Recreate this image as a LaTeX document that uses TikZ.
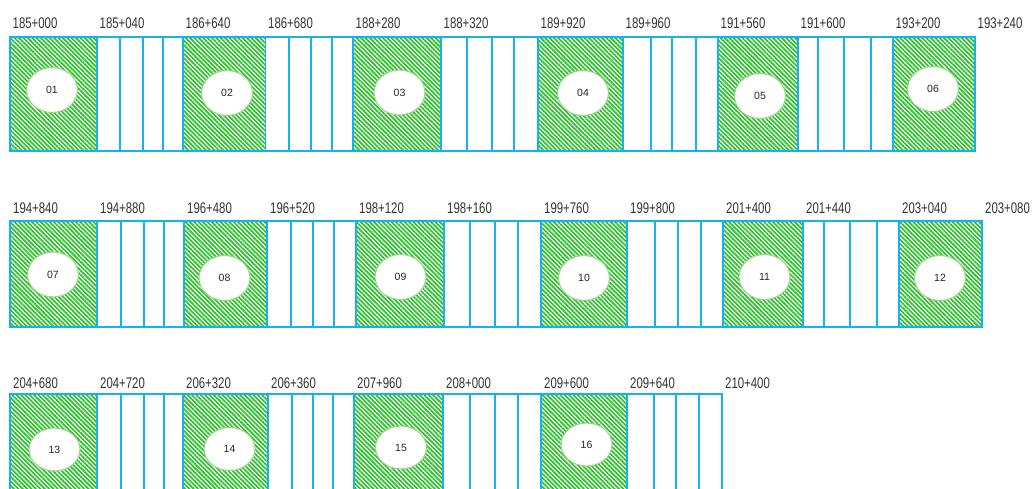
\documentclass[tikz,border=0pt]{standalone}
\usepackage{fontspec}
\setmainfont{Liberation Sans}
\usepackage{graphicx}
\usetikzlibrary{patterns.meta,shapes.geometric}
\definecolor{lineblue}{RGB}{20,178,240}
\definecolor{hatchgreen}{RGB}{45,192,45}
\definecolor{ringgreen}{RGB}{160,210,140}
\newcommand{\tall}[1]{\scalebox{1}[1.35]{#1}}

\begin{document}
\begin{tikzpicture}[x=1pt,y=-1pt,
    hatched/.style={pattern={Lines[angle=-45,distance=3.1pt,line width=1.7pt]},pattern color=hatchgreen},
    sep/.style={draw=lineblue,line width=1.4pt},
    station/.style={anchor=west,inner sep=0pt,text=black!80,font=\fontsize{11.4}{12}\selectfont},
    zone/.style={ellipse,fill=white,draw=ringgreen,line width=1.1pt,minimum width=51pt,minimum height=45pt,inner sep=0pt,text=black!85,font=\fontsize{10.5}{10.5}\selectfont}]
            \useasboundingbox (0,0) rectangle (1035,488);
            \fill[white] (0,0) rectangle (1035,488);
            \clip (0,0) rectangle (1035,488);

            % row 1
            \foreach \a/\b in {10/97,183/265.5,353/441,538/623,718/798,893/975}
                \fill[hatched] (\a,37) rectangle (\b,151);
            \foreach \x in {97,120,143,163,183,265.5,289,311,332,353,441,467,492,514,538,623,651,672,696,718,798,818,844,871,893}
                \draw[sep] (\x,37) -- (\x,151);
            \draw[sep] (10,37) rectangle (975,151);
            \foreach \x/\t [count=\i] in {10/185+000,97/185+040,183/186+640,265.5/186+680,353/188+280,441/188+320,538/189+920,623/189+960,718/191+560,798/191+600,893/193+200,975/193+240}
                \node[station] (ka\i) at (\x+2.5,23.5) {\tall{\t}};
            \foreach \x/\y/\n in {52/90/01,227/93/02,399.5/92.5/03,583/93/04,760/96/05,933/89/06}
                \node[zone] (z\n) at (\x,\y) {\n};

            % row 2
            \foreach \a/\b in {10/97,184/267,356/444,541/627,723/803,899/982}
                \fill[hatched] (\a,221) rectangle (\b,327);
            \foreach \x in {97,121,144,164,184,267,291,313,334,356,444,470,495,518,541,627,655,678,701,723,803,824,850,877,899}
                \draw[sep] (\x,221) -- (\x,327);
            \draw[sep] (10,221) rectangle (982,327);
            \foreach \x/\t [count=\i] in {10/194+840,97/194+880,184/196+480,267/196+520,356/198+120,444/198+160,541/199+760,627/199+800,723/201+400,803/201+440,899/203+040,982/203+080}
                \node[station] (kb\i) at (\x+3,208.5) {\tall{\t}};
            \foreach \x/\y/\n in {53/274.5/07,224.5/278/08,400.5/277/09,584/278/10,764.5/277/11,940/278/12}
                \node[zone] (z\n) at (\x,\y) {\n};

            % row 3 (cut off at the bottom)
            \foreach \a/\b in {10/97,183/268,354/443,541/627}
                \fill[hatched] (\a,394) rectangle (\b,520);
            \foreach \x in {97,121,144,164,183,268,292,313,333,354,443,470,495,518,541,627,654,676,699}
                \draw[sep] (\x,394) -- (\x,520);
            \draw[sep] (10,394) rectangle (722,520);
            \foreach \x/\t [count=\i] in {10/204+680,97/204+720,183/206+320,268/206+360,354/207+960,443/208+000,541/209+600,627/209+640,722/210+400}
                \node[station] (kc\i) at (\x+3,383.5) {\tall{\t}};
            \foreach \x/\y/\n in {54.5/449.5/13,229.5/449/14,401/447.5/15,586.5/444.5/16}
                \node[zone,minimum height=43pt] (z\n) at (\x,\y) {\n};
        \end{tikzpicture}
\end{document}
